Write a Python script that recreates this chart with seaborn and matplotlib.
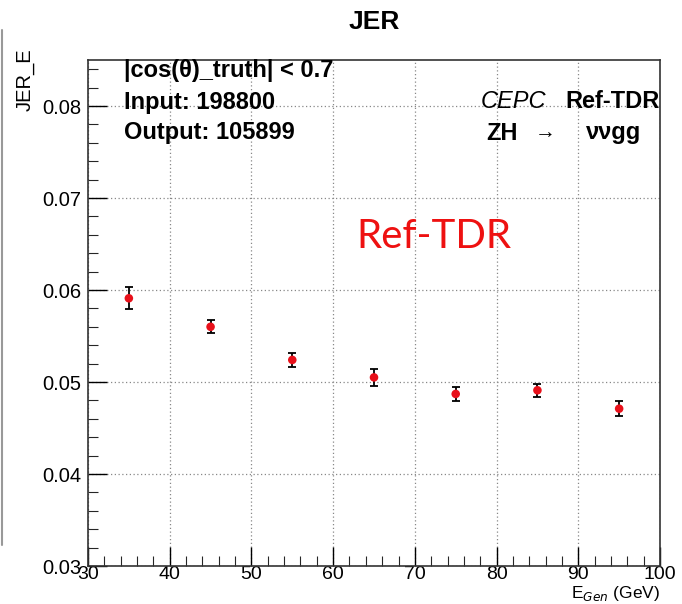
import matplotlib
matplotlib.use("Agg")
import matplotlib.pyplot as plt
import seaborn as sns
import pandas as pd
from matplotlib.ticker import MultipleLocator

# Data
energy = [35, 45, 55, 65, 75, 85, 95]
jer = [0.0591, 0.0560, 0.0524, 0.0505, 0.0487, 0.0491, 0.0471]
jer_err = [0.0012, 0.0007, 0.0008, 0.0009, 0.00075, 0.0007, 0.0008]
x_ticks = [30, 40, 50, 60, 70, 80, 90, 100]
y_ticks = [0.03, 0.04, 0.05, 0.06, 0.07, 0.08]

df = pd.DataFrame({"E": energy, "JER": jer, "err": jer_err})

sns.set_theme(style="white")
plt.rcParams['font.family'] = ['Liberation Sans', 'DejaVu Sans']
plt.rcParams['text.color'] = 'black'

fig = plt.figure(figsize=(6.82, 6.04), dpi=100)
ax = fig.add_axes([88/682, 38/604, (660-88)/682, (566-60)/604])

ax.errorbar(df["E"], df["JER"], yerr=df["err"], fmt="none", ecolor="black",
            elinewidth=1.3, capsize=3, capthick=1.3, zorder=3)
sns.scatterplot(data=df, x="E", y="JER", ax=ax, color="#e8101a", s=38,
                edgecolor="none", zorder=4)

ax.set_xlim(30, 100)
ax.set_ylim(0.03, 0.085)
ax.set_xticks(x_ticks)
ax.set_yticks(y_ticks)
ax.set_xticklabels([str(t) for t in x_ticks])
ax.set_yticklabels([f"{t:.2f}" for t in y_ticks])
ax.xaxis.set_minor_locator(MultipleLocator(2))
ax.yaxis.set_minor_locator(MultipleLocator(0.002))
ax.tick_params(axis="both", which="major", direction="in", length=14, width=1,
               labelsize=14.5, colors="black", bottom=True, left=True, top=False, right=False)
ax.tick_params(axis="both", which="minor", direction="in", length=7, width=0.8,
               bottom=True, left=True, top=False, right=False)
ax.tick_params(axis="x", pad=0, labelsize=14)
ax.tick_params(axis="y", pad=5)
ax.grid(True, which="major", linestyle=(0, (1, 2)), color="#888888", linewidth=0.9)
for s in ax.spines.values():
    s.set_color("#333333")
    s.set_linewidth(1.2)
ax.set_xlabel("")
ax.set_ylabel("")

# Title and axis labels
fig.text(374/682, 1 - 22/604, "JER", ha="center", va="center", fontsize=19, fontweight="bold")
fig.text(25/682, 1 - 80/604, "JER_E", ha="center", va="center", rotation=90, fontsize=14.5)
fig.text(660/682, 1 - 603/604, r"E$_{Gen}$ (GeV)", ha="right", va="bottom", fontsize=12.5)

# Annotations
fs = 17
txt_kw = dict(fontsize=fs, fontweight="bold", transform=fig.transFigure, va="center")
fig.text(124/682, 1 - 71/604, "|cos(θ)_truth| < 0.7", ha="left", **txt_kw)
fig.text(124/682, 1 - 102/604, "Input: 198800", ha="left", **txt_kw)
fig.text(124/682, 1 - 133/604, "Output: 105899", ha="left", **txt_kw)
fig.text(546/682, 1 - 102/604, "CEPC", ha="right", fontsize=fs, style="italic",
         transform=fig.transFigure, va="center")
fig.text(660/682, 1 - 102/604, "Ref-TDR", ha="right", **txt_kw)
fig.text(486/682, 1 - 133/604, "ZH", ha="left", **txt_kw)
fig.text(545/682, 1 - 133/604, "→", ha="center", fontsize=15, transform=fig.transFigure, va="center")
fig.text(641/682, 1 - 133/604, "ννgg", ha="right", **txt_kw)

fig.text(434/682, 1 - 237/604, "Ref-TDR", ha="center", va="center", fontsize=29,
         color="#ee1111", family="Lato")

# Left edge gray line
fig.add_artist(plt.Line2D([2/682, 2/682], [1 - 545/604, 1 - 30/604], color="#999999",
                          linewidth=1.5, transform=fig.transFigure))

fig.savefig("out.png", dpi=100)
